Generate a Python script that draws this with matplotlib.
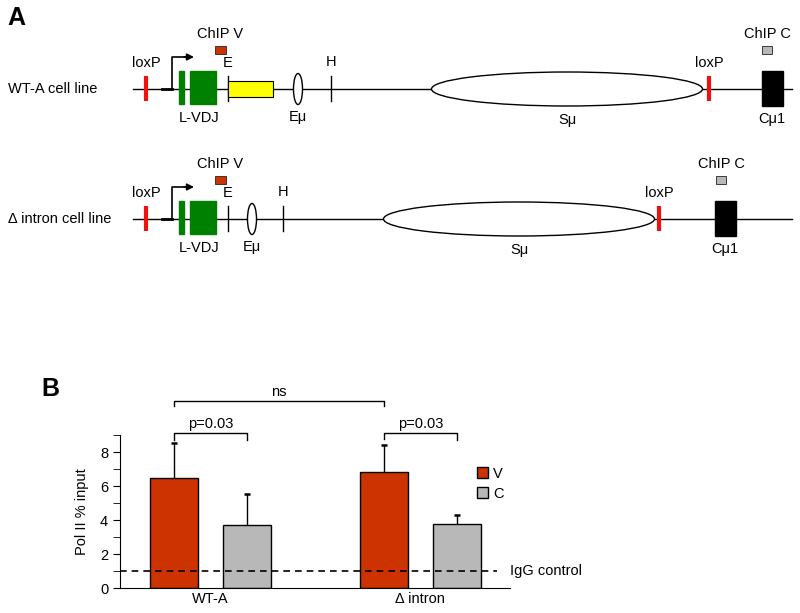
import matplotlib.pyplot as plt
from matplotlib.patches import Rectangle, Ellipse, Patch

plt.rcParams["font.family"] = ["Liberation Sans", "DejaVu Sans"]

# ---- panel A: locus schematic (figure pixel coordinates) ----
row_labels = ["WT-A cell line", "\u0394 intron cell line"]
row_y = [89, 219]
line_x = [133, 792]
loxp_x = [[146, 709], [146, 659]]
e_x = [228, 228]
h_x = [331, 283]
emu_x = [298, 252]
smu_x = [567, 519]
cmu_x = [772, 725]
chipv_x = [220, 220]
chipc_x = [767, 721]
yellow_span = [228, 273]  # only in WT-A

# ---- panel B: Pol II ChIP ----
groups = ["WT-A", "\u0394 intron"]
v_vals = [6.45, 6.85]
v_err = [2.1, 1.55]
c_vals = [3.72, 3.78]
c_err = [1.83, 0.52]
igg_level = 1.0

RED = "#cc3300"
GREY = "#b8b8b8"
GREEN = "#008000"

fig = plt.figure(figsize=(8, 6.13), dpi=100)

ax = fig.add_axes([0, 0, 1, 1])
ax.set_xlim(0, 800)
ax.set_ylim(613, 0)
ax.axis("off")

fs = 10.5
ax.text(7, 18, "A", fontsize=18, fontweight="bold", va="center")
ax.text(41, 389, "B", fontsize=18, fontweight="bold", va="center")

for i, y in enumerate(row_y):
    ax.text(8, y, row_labels[i], fontsize=fs, va="center")
    ax.plot(line_x, [y, y], color="black", lw=1, zorder=1)

    # loxP sites
    for lx in loxp_x[i]:
        ax.plot([lx, lx], [y - 13, y + 12], color="#ee1111", lw=3, solid_capstyle="butt", zorder=3)
        ax.text(lx, y - 26, "loxP", fontsize=fs, ha="center", va="center")

    # promoter arrow
    ax.plot([162, 172], [y, y], color="black", lw=2, zorder=2)
    ax.plot([172, 172, 186], [y, y - 32, y - 32], color="black", lw=1.2, zorder=2)
    ax.annotate("", xy=(194, y - 32), xytext=(184, y - 32),
                arrowprops=dict(arrowstyle="-|>", color="black", lw=1.2,
                                mutation_scale=10, shrinkA=0, shrinkB=0))

    # L and VDJ exons
    ax.add_patch(Rectangle((179, y - 18), 5, 33, color=GREEN, zorder=3))
    ax.add_patch(Rectangle((190, y - 18), 26, 33, color=GREEN, zorder=3))
    ax.text(199, y + 29, "L-VDJ", fontsize=fs, ha="center", va="center")

    # ChIP V primer
    ax.add_patch(Rectangle((chipv_x[i] - 5, y - 43), 11, 8, facecolor=RED,
                           edgecolor="#222222", lw=0.6, zorder=3))
    ax.text(chipv_x[i], y - 55, "ChIP V", fontsize=fs, ha="center", va="center")

    # E and H sites
    ax.plot([e_x[i], e_x[i]], [y - 13, y + 12], color="black", lw=1, zorder=2)
    ax.text(e_x[i], y - 26, "E", fontsize=fs, ha="center", va="center")
    ax.plot([h_x[i], h_x[i]], [y - 13, y + 12], color="black", lw=1, zorder=2)
    ax.text(h_x[i], y - 27, "H", fontsize=fs, ha="center", va="center")

    # intronic enhancer
    ax.add_patch(Ellipse((emu_x[i], y), 9, 31, facecolor="white", edgecolor="black", lw=1, zorder=3))
    ax.text(emu_x[i], y + 28, "E\u03bc", fontsize=fs, ha="center", va="center")

    # switch region
    ax.add_patch(Ellipse((smu_x[i], y), 271, 34, facecolor="white", edgecolor="black", lw=1, zorder=2))
    ax.text(smu_x[i], y + 31, "S\u03bc", fontsize=fs, ha="center", va="center")

    # C mu 1 exon
    ax.add_patch(Rectangle((cmu_x[i] - 10, y - 18), 21, 35, color="black", zorder=3))
    ax.text(cmu_x[i], y + 30, "C\u03bc1", fontsize=fs, ha="center", va="center")

    # ChIP C primer
    ax.add_patch(Rectangle((chipc_x[i] - 5, y - 43), 10, 8, facecolor=GREY,
                           edgecolor="#222222", lw=0.6, zorder=3))
    ax.text(chipc_x[i], y - 55, "ChIP C", fontsize=fs, ha="center", va="center")

# yellow intron segment in WT-A
ax.add_patch(Rectangle((yellow_span[0], row_y[0] - 8), yellow_span[1] - yellow_span[0], 16,
                       facecolor="#ffff00", edgecolor="black", lw=0.8, zorder=3))

# ---- panel B ----
bx = fig.add_axes([0.15, 1 - 588 / 613, 0.4875, (588 - 435) / 613])
xpos = [0, 1]
w = 0.229
v_x = [p - 0.171 for p in xpos]
c_x = [p + 0.175 for p in xpos]

bx.bar(v_x, v_vals, w, color=RED, edgecolor="black", lw=1, zorder=2)
bx.bar(c_x, c_vals, w, color=GREY, edgecolor="black", lw=1, zorder=2)

# upper error bars only
for xs, vals, errs in [(v_x, v_vals, v_err), (c_x, c_vals, c_err)]:
    tops = [v + e for v, e in zip(vals, errs)]
    bx.vlines(xs, vals, tops, color="black", lw=1, zorder=1)
    bx.plot(xs, tops, ls="none", marker="_", ms=5, mew=1.8, color="black", zorder=1)

bx.plot([-0.43, 1.37], [igg_level, igg_level], color="black", lw=1.2, ls=(0, (4, 3)), zorder=3)
bx.text(1.43, igg_level, "IgG control", fontsize=fs, va="center")

bx.set_xlim(-0.43, 1.43)
bx.set_ylim(0, 9)
bx.set_yticks([0, 2, 4, 6, 8])
bx.set_yticks([1, 3, 5, 7, 9], minor=True)
bx.set_xticks(xpos)
bx.set_xticklabels(groups, fontsize=fs)
bx.tick_params(axis="x", length=0, pad=3)
bx.tick_params(axis="y", which="both", length=5, labelsize=fs, direction="out")
for s in ["top", "right"]:
    bx.spines[s].set_visible(False)
bx.set_ylabel("Pol II % input", fontsize=fs, labelpad=8)


def bracket(x0, x1, y, y0, y1, label, ty):
    bx.plot([x0, x0, x1, x1], [y0, y, y, y1], color="black", lw=1, clip_on=False)
    bx.text((x0 + x1) / 2, ty, label, fontsize=fs, ha="center", va="center")


bracket(v_x[0], c_x[0], 9.1, 8.7, 8.7, "p=0.03", 9.65)
bracket(v_x[1], c_x[1], 9.1, 8.75, 8.7, "p=0.03", 9.65)
bracket(v_x[0], v_x[1], 11.0, 10.7, 10.7, "ns", 11.55)

bx.legend(handles=[Patch(facecolor=RED, edgecolor="black", label="V"),
                   Patch(facecolor=GREY, edgecolor="black", label="C")],
          loc="upper left", bbox_to_anchor=(0.9, 0.83), frameon=False,
          handlelength=0.8, handleheight=0.8, handletextpad=0.3,
          labelspacing=0.4, fontsize=fs, borderaxespad=0)

fig.savefig("out.png", dpi=100)
